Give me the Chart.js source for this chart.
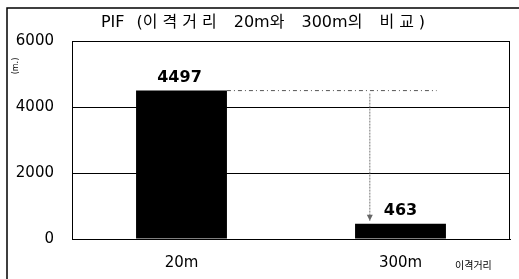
<!DOCTYPE html>
<html>
<head>
<meta charset="utf-8">
<script src="https://cdn.jsdelivr.net/npm/chart.js@4/dist/chart.umd.min.js"></script>
<style>
  body { margin: 0; background: #fff; }
  #wrap { position: relative; width: 519px; height: 279px; }
</style>
</head>
<body>
<div id="wrap"><canvas id="pif"></canvas></div>
<script>
const categories = ["20m", "300m"];
const pifValues = [4497, 463];
const yTicks = [0, 2000, 4000, 6000];
const titleText = "PIF (이격거리 20m와 300m의 비교)";
const yTitle = "(m.)";
const xTitle = "이격거리";

const font = "'DejaVu Sans', 'Noto Sans CJK KR', sans-serif";

// title with Hangul and word gaps spread out, Latin kept tight, centred on cx
function drawTitle(ctx, text, cx, yMid) {
    ctx.font = "16px " + font;
    ctx.textBaseline = "middle";
    ctx.textAlign = "left";
    const chars = Array.from(text);
    const gap = c => /[\uAC00-\uD7A3]/.test(c) ? 5 : (c === " " ? 7 : 0);
    let total = 0;
    chars.forEach(c => { total += ctx.measureText(c).width + gap(c); });
    let px = cx - total / 2;
    chars.forEach(c => {
        ctx.fillText(c, px, yMid);
        px += ctx.measureText(c).width + gap(c);
    });
}

// frame, title, value labels, dashed comparison line and arrow, axis titles
const extras = {
    id: "extras",
    afterDraw(chart) {
        const ctx = chart.ctx;
        const a = chart.chartArea;
        const x = chart.scales.x, y = chart.scales.y;
        ctx.save();

        // outer frame (left + top only)
        ctx.strokeStyle = "#000";
        ctx.lineWidth = 1.5;
        ctx.beginPath();
        ctx.moveTo(7, 279);
        ctx.lineTo(7, 8);
        ctx.lineTo(519, 8);
        ctx.stroke();

        // plot frame
        ctx.lineWidth = 1;
        ctx.strokeRect(a.left + 0.5, a.top + 0.5, a.right - a.left - 1, a.bottom - a.top);

        ctx.fillStyle = "#000";
        drawTitle(ctx, titleText, 263, 23);

        // value labels
        ctx.font = "bold 16px " + font;
        ctx.textAlign = "center";
        ctx.textBaseline = "bottom";
        const meta = chart.getDatasetMeta(0);
        meta.data.forEach((bar, i) => {
            ctx.fillText(String(pifValues[i]), bar.x - (i === 0 ? 2 : 0), bar.y - 5);
        });

        // dashed level line from first bar
        const b0 = meta.data[0];
        const yTop = y.getPixelForValue(pifValues[0]);
        ctx.strokeStyle = "#555";
        ctx.lineWidth = 1;
        ctx.setLineDash([4, 3, 1, 3]);
        ctx.beginPath();
        ctx.moveTo(b0.x + b0.width / 2, yTop);
        ctx.lineTo(x.getPixelForValue(1.165), yTop);
        ctx.stroke();

        // dashed arrow down to second bar
        const ax = x.getPixelForValue(0.86);
        const yEnd = y.getPixelForValue(pifValues[1]) - 3;
        ctx.setLineDash([2, 1]);
        ctx.strokeStyle = "#777";
        ctx.beginPath();
        ctx.moveTo(ax, yTop + 3);
        ctx.lineTo(ax, yEnd);
        ctx.stroke();
        ctx.setLineDash([]);
        ctx.fillStyle = "#666";
        ctx.beginPath();
        ctx.moveTo(ax - 3, yEnd - 6);
        ctx.lineTo(ax + 3, yEnd - 6);
        ctx.lineTo(ax, yEnd);
        ctx.closePath();
        ctx.fill();

        // axis titles
        ctx.fillStyle = "#000";
        ctx.font = "8px " + font;
        ctx.textAlign = "center";
        ctx.textBaseline = "middle";
        ctx.translate(16, 66);
        ctx.rotate(-Math.PI / 2);
        ctx.fillText(yTitle, 0, 0);
        ctx.restore();

        ctx.save();
        ctx.fillStyle = "#000";
        ctx.font = "10px 'Noto Sans CJK KR', sans-serif";
        ctx.textAlign = "left";
        ctx.textBaseline = "middle";
        ctx.fillText(xTitle, 455, 265);
        ctx.restore();
    }
};

new Chart(document.getElementById("pif"), {
    type: "bar",
    data: {
        labels: categories,
        datasets: [{
            data: pifValues,
            backgroundColor: "#000",
            borderWidth: 0,
            categoryPercentage: 1,
            barPercentage: 0.415
        }]
    },
    options: {
        responsive: true,
        maintainAspectRatio: false,
        animation: false,
        layout: { padding: { left: 0, right: 9, top: 41, bottom: 0 } },
        plugins: {
            legend: { display: false },
            tooltip: { enabled: false },
            title: { display: false }
        },
        scales: {
            x: {
                grid: { display: false, drawTicks: false },
                border: { display: true, color: "#000" },
                ticks: { color: "#000", font: { family: font, size: 15 }, padding: 15 },
                afterFit(s) { s.height = 40; }
            },
            y: {
                min: 0,
                max: 6000,
                afterBuildTicks(s) { s.ticks = yTicks.map(v => ({ value: v })); },
                grid: { color: "#000", drawTicks: false },
                border: { display: true, color: "#000" },
                ticks: {
                    color: "#000",
                    font: { family: font, size: 15 },
                    padding: 18,
                    callback: v => String(v)
                },
                afterFit(s) { s.width = 72; }
            }
        }
    },
    plugins: [extras]
});
</script>
</body>
</html>
